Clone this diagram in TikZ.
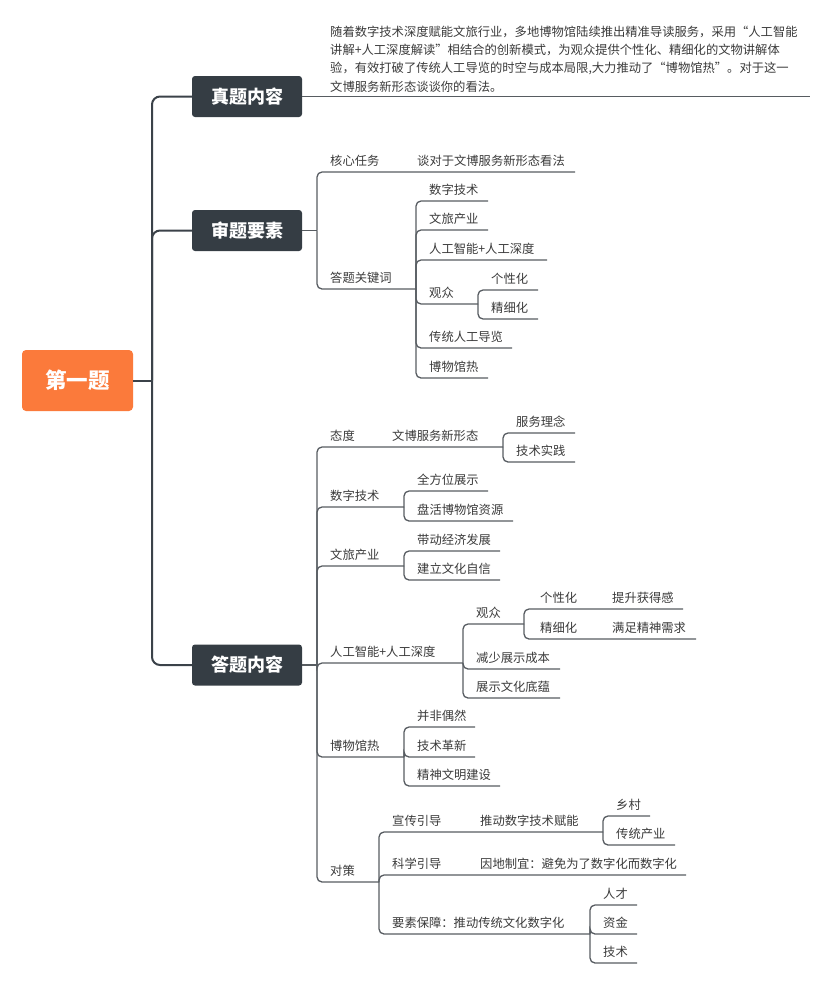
\documentclass[tikz,border=0pt]{standalone}
\usepackage{fontspec}
\setmainfont{Noto Sans CJK SC}
\definecolor{boxc}{HTML}{353D44}
\definecolor{orangec}{HTML}{FB7A3B}
\definecolor{trunkc}{HTML}{3B4249}
\definecolor{linkc}{HTML}{575C61}
\definecolor{txtc}{HTML}{3A3A3A}
\tikzset{
  mainbox/.style={fill=boxc,rounded corners=3pt,minimum width=110pt,minimum height=41pt,inner sep=0pt,text=white,font=\fontsize{18}{18}\selectfont\bfseries},
  rootbox/.style={fill=orangec,rounded corners=4pt,minimum width=111pt,minimum height=61pt,inner sep=0pt,text=white,font=\fontsize{21.5}{21.5}\selectfont\bfseries},
  leaf/.style={anchor=west,inner sep=0pt,text=txtc,font=\fontsize{12.3}{12.3}\selectfont},
  trunk/.style={draw=trunkc,line width=2pt,rounded corners=8pt},
  link/.style={draw=linkc,line width=1.3pt,rounded corners=5pt},
}
\newcommand\lf[4]{\node[leaf] (#1) at (#2,{#3-11.5}) {#4};}
\begin{document}
\begin{tikzpicture}[x=1pt,y=-1pt]
\useasboundingbox (0,0) rectangle (833,983);
% root and main boxes
\node[rootbox] (root) at (77.5,380.5) {第一题};
\node[mainbox] (zt) at (247,96.5) {真题内容};
\node[mainbox] (sj) at (247,230.5) {审题要素};
\node[mainbox] (dt) at (247,665) {答题内容};
\coordinate (T) at (152,380.5);
\draw[trunk] (root.east) -- (T);
\draw[trunk] (T) |- (zt.west);
\draw[trunk] (T) |- (sj.west);
\draw[trunk] (T) |- (dt.west);
% question text
\coordinate (ztend) at (810,96.5);
\draw[link] (zt.east) -- (ztend);
\node[leaf] (p1) at (330,32) {随着数字技术深度赋能文旅行业，多地博物馆陆续推出精准导读服务，采用“人工智能};
\node[leaf] (p2) at (330,50) {讲解+人工深度解读”相结合的创新模式，为观众提供个性化、精细化的文物讲解体};
\node[leaf] (p3) at (330,68.5) {验，有效打破了传统人工导览的时空与成本局限,大力推动了“博物馆热”。对于这一};
\node[leaf] (p4) at (330,87) {文博服务新形态谈谈你的看法。};
% ===== 审题要素 =====
\coordinate (S) at (317,230.5);
\draw[link] (sj.east) -- (S);
\draw[link] (S) |- (575,172);
\lf{s1}{330}{172}{核心任务}
\lf{s1a}{417}{172}{谈对于文博服务新形态看法}
\coordinate (S2) at (416,289);
\draw[link] (S) |- (S2);
\lf{s2}{330}{289}{答题关键词}
\draw[link] (S2) |- (488,201); \lf{k1}{429}{201}{数字技术}
\draw[link] (S2) |- (488,230); \lf{k2}{429}{230}{文旅产业}
\draw[link] (S2) |- (547,260); \lf{k3}{429}{260}{人工智能+人工深度}
\coordinate (K4) at (478,304);
\draw[link] (S2) |- (K4); \lf{k4}{429}{304}{观众}
\draw[link] (K4) |- (538,290); \lf{k41}{491}{290}{个性化}
\draw[link] (K4) |- (538,319); \lf{k42}{491}{319}{精细化}
\draw[link] (S2) |- (512,348); \lf{k5}{429}{348}{传统人工导览}
\draw[link] (S2) |- (488,378); \lf{k6}{429}{378}{博物馆热}
% ===== 答题内容 =====
\coordinate (D) at (317,665);
\draw[link] (dt.east) -- (D);
% 态度
\coordinate (D1) at (503,447);
\draw[link] (D) |- (D1);
\lf{d1}{330}{447}{态度}
\lf{d1a}{392}{447}{文博服务新形态}
\draw[link] (D1) |- (575,433); \lf{d11}{516}{433}{服务理念}
\draw[link] (D1) |- (575,462); \lf{d12}{516}{462}{技术实践}
% 数字技术
\coordinate (D2) at (404,507);
\draw[link] (D) |- (D2); \lf{d2}{330}{507}{数字技术}
\draw[link] (D2) |- (488,491); \lf{d21}{417}{491}{全方位展示}
\draw[link] (D2) |- (513,521); \lf{d22}{417}{521}{盘活博物馆资源}
% 文旅产业
\coordinate (D3) at (404,566);
\draw[link] (D) |- (D3); \lf{d3}{330}{566}{文旅产业}
\draw[link] (D3) |- (500,551); \lf{d31}{417}{551}{带动经济发展}
\draw[link] (D3) |- (500,580); \lf{d32}{417}{580}{建立文化自信}
% 人工智能+人工深度
\coordinate (D4) at (463,663);
\draw[link] (D) |- (D4); \lf{d4}{330}{663}{人工智能+人工深度}
\coordinate (D41) at (524,624);
\draw[link] (D4) |- (D41); \lf{d41}{476}{624}{观众}
\draw[link] (D41) |- (683,609); \lf{d411}{540}{609}{个性化} \lf{d411a}{612}{609}{提升获得感}
\draw[link] (D41) |- (696,639); \lf{d412}{540}{639}{精细化} \lf{d412a}{612}{639}{满足精神需求}
\draw[link] (D4) |- (560,669); \lf{d42}{476}{669}{减少展示成本}
\draw[link] (D4) |- (560,698); \lf{d43}{476}{698}{展示文化底蕴}
% 博物馆热
\coordinate (D5) at (404,757);
\draw[link] (D) |- (D5); \lf{d5}{330}{757}{博物馆热}
\draw[link] (D5) |- (475,727); \lf{d51}{417}{727}{并非偶然}
\draw[link] (D5) |- (475,757); \lf{d52}{417}{757}{技术革新}
\draw[link] (D5) |- (500,786); \lf{d53}{417}{786}{精神文明建设}
% 对策
\coordinate (D6) at (379,882);
\draw[link] (D) |- (D6); \lf{d6}{330}{882}{对策}
\coordinate (D61) at (603,832);
\draw[link] (D6) |- (D61); \lf{d61}{392}{832}{宣传引导} \lf{d61a}{480}{832}{推动数字技术赋能}
\draw[link] (D61) |- (650,816); \lf{d611}{616}{816}{乡村}
\draw[link] (D61) |- (675,845); \lf{d612}{616}{845}{传统产业}
\draw[link] (D6) |- (686,875); \lf{d62}{392}{875}{科学引导} \lf{d62a}{480}{875}{因地制宜：避免为了数字化而数字化}
\coordinate (D63) at (590,934);
\draw[link] (D6) |- (D63); \lf{d63}{392}{934}{要素保障：推动传统文化数字化}
\draw[link] (D63) |- (637,905); \lf{d631}{603}{905}{人才}
\draw[link] (D63) |- (637,934); \lf{d632}{603}{934}{资金}
\draw[link] (D63) |- (637,963); \lf{d633}{603}{963}{技术}
\end{tikzpicture}
\end{document}
